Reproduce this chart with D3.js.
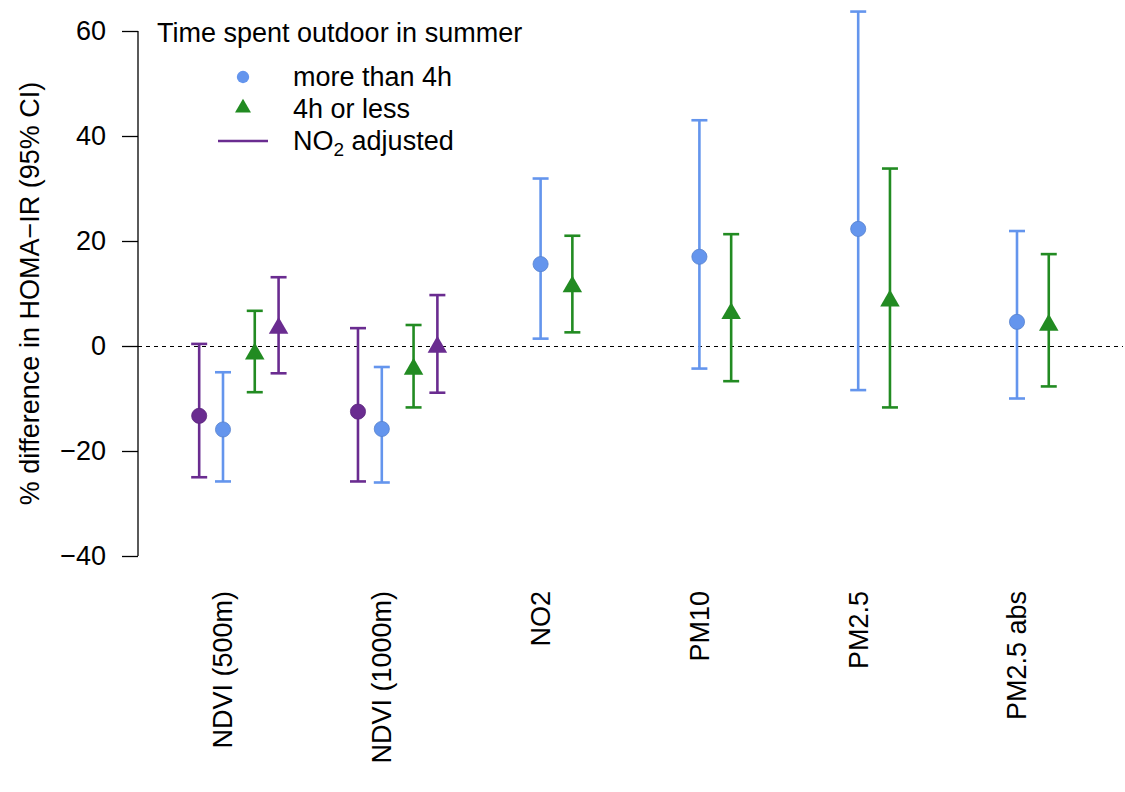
<!DOCTYPE html>
<html>
<head>
<meta charset="utf-8">
<script src="https://cdn.jsdelivr.net/npm/d3@7"></script>
<style>
  body { margin: 0; background: #fff; }
  svg { display: block; font-family: "Liberation Sans", Arial, Helvetica, sans-serif; }
</style>
</head>
<body>
<svg id="chart" width="1125" height="792"></svg>
<script>
// categories on the x axis
const categories = ["NDVI (500m)", "NDVI (1000m)", "NO2", "PM10", "PM2.5", "PM2.5 abs"];
const yTicks = [-40, -20, 0, 20, 40, 60];

// more than 4h outdoors (blue circles)
const moreEst = [-15.9, -15.8, 15.6, 17.0, 22.3, 4.6];
const moreLo  = [-25.8, -26.0, 1.4, -4.3, -8.4, -10.0];
const moreHi  = [-5.0, -4.0, 31.9, 43.0, 63.7, 21.9];

// 4h or less outdoors (green triangles)
const lessEst = [-1.5, -4.4, 11.3, 6.2, 8.6, 4.0];
const lessLo  = [-8.8, -11.7, 2.6, -6.7, -11.7, -7.7];
const lessHi  = [6.7, 4.0, 21.0, 21.3, 33.8, 17.5];

// NO2 adjusted, only for the NDVI exposures (purple)
const adjMoreEst = [-13.3, -12.5];
const adjMoreLo  = [-25.0, -25.8];
const adjMoreHi  = [0.4, 3.4];
const adjLessEst = [3.4, -0.2];
const adjLessLo  = [-5.2, -8.9];
const adjLessHi  = [13.1, 9.7];

const blue = "#6495ED", green = "#228B22", purple = "#6A2C90";
const fontSize = "27px";

const svg = d3.select("#chart");

const x = d3.scaleLinear().domain([1, 6]).range([223, 1017]);
const y = d3.scaleLinear().domain([-40, 60]).range([556, 31]);

// build one list of estimates with their position offset inside a group
function series(est, lo, hi, offset, color, shape) {
  return est.map((v, i) => ({ i: i + 1, est: v, lo: lo[i], hi: hi[i], offset, color, shape }));
}
const points = [].concat(
  series(adjMoreEst, adjMoreLo, adjMoreHi, -0.15, purple, "circle"),
  series(moreEst, moreLo, moreHi, 0, blue, "circle"),
  series(lessEst, lessLo, lessHi, 0.2, green, "triangle"),
  series(adjLessEst, adjLessLo, adjLessHi, 0.35, purple, "triangle")
);

// reference line at zero
svg.append("line")
  .attr("x1", 138).attr("x2", 1123)
  .attr("y1", y(0) + 0.5).attr("y2", y(0) + 0.5)
  .attr("stroke", "#000")
  .attr("stroke-width", 1)
  .attr("shape-rendering", "crispEdges")
  .attr("stroke-dasharray", "4,4");

// Y axis
const yAxis = svg.append("g")
  .attr("transform", "translate(138,0)")
  .call(d3.axisLeft(y).tickValues(yTicks).tickSize(16).tickPadding(16)
    .tickFormat(d => d < 0 ? "\u2212" + Math.abs(d) : d));
yAxis.select(".domain").attr("d", `M0,${y(-40)}V${y(60)}`).attr("stroke-width", 1.3);
yAxis.selectAll(".tick line").attr("stroke-width", 1.3);
yAxis.selectAll("text")
  .attr("fill", "#000")
  .style("font-size", fontSize)
  .style("font-family", "inherit");

svg.append("text")
  .attr("transform", `translate(30,${(y(-40) + y(60)) / 2}) rotate(-90)`)
  .attr("text-anchor", "middle")
  .attr("dy", "0.35em")
  .style("font-size", fontSize)
  .text("% difference in HOMA\u2212IR (95% CI)");

// category labels, rotated
svg.selectAll(".cat-label")
  .data(categories)
  .enter().append("text")
    .attr("class", "cat-label")
    .attr("transform", (d, i) => `translate(${x(i + 1)},591) rotate(-90)`)
    .attr("text-anchor", "end")
    .attr("dy", "0.35em")
    .style("font-size", fontSize)
    .text(d => d);

// error bars
const capW = 8;
const bars = svg.append("g").selectAll("g")
  .data(points)
  .enter().append("g")
    .attr("stroke", d => d.color)
    .attr("stroke-width", 2.6);

bars.append("line")
  .attr("x1", d => x(d.i + d.offset)).attr("x2", d => x(d.i + d.offset))
  .attr("y1", d => y(d.lo)).attr("y2", d => y(d.hi));
bars.append("line")
  .attr("x1", d => x(d.i + d.offset) - capW).attr("x2", d => x(d.i + d.offset) + capW)
  .attr("y1", d => y(d.lo)).attr("y2", d => y(d.lo));
bars.append("line")
  .attr("x1", d => x(d.i + d.offset) - capW).attr("x2", d => x(d.i + d.offset) + capW)
  .attr("y1", d => y(d.hi)).attr("y2", d => y(d.hi));

// point estimates
const circleSym = d3.symbol(d3.symbolCircle, 180);
const triSym = d3.symbol(d3.symbolTriangle, 165);
svg.append("g").selectAll("path")
  .data(points)
  .enter().append("path")
    .attr("transform", d => `translate(${x(d.i + d.offset)},${y(d.est)})`)
    .attr("d", d => d.shape === "circle" ? circleSym() : triSym())
    .attr("fill", d => d.color)
    .attr("stroke", d => d.shape === "circle" ? d3.color(d.color).darker(0.4) : "none")
    .attr("stroke-width", 0.8);

// Legend
const legend = svg.append("g");
legend.append("text")
  .attr("x", 157).attr("y", 42)
  .style("font-size", fontSize)
  .text("Time spent outdoor in summer");

legend.append("path")
  .attr("transform", "translate(243,77)")
  .attr("d", d3.symbol(d3.symbolCircle, 120)())
  .attr("fill", blue);
legend.append("text")
  .attr("x", 293).attr("y", 86)
  .style("font-size", fontSize)
  .text("more than 4h");

legend.append("path")
  .attr("transform", "translate(243,108)")
  .attr("d", d3.symbol(d3.symbolTriangle, 110)())
  .attr("fill", green);
legend.append("text")
  .attr("x", 293).attr("y", 118)
  .style("font-size", fontSize)
  .text("4h or less");

legend.append("line")
  .attr("x1", 218).attr("x2", 268)
  .attr("y1", 141).attr("y2", 141)
  .attr("stroke", purple)
  .attr("stroke-width", 2.6);
const no2 = legend.append("text")
  .attr("x", 293).attr("y", 150)
  .style("font-size", fontSize);
no2.append("tspan").text("NO");
no2.append("tspan").attr("dy", 6).style("font-size", "19px").text("2");
no2.append("tspan").attr("dy", -6).text(" adjusted");
</script>
</body>
</html>
